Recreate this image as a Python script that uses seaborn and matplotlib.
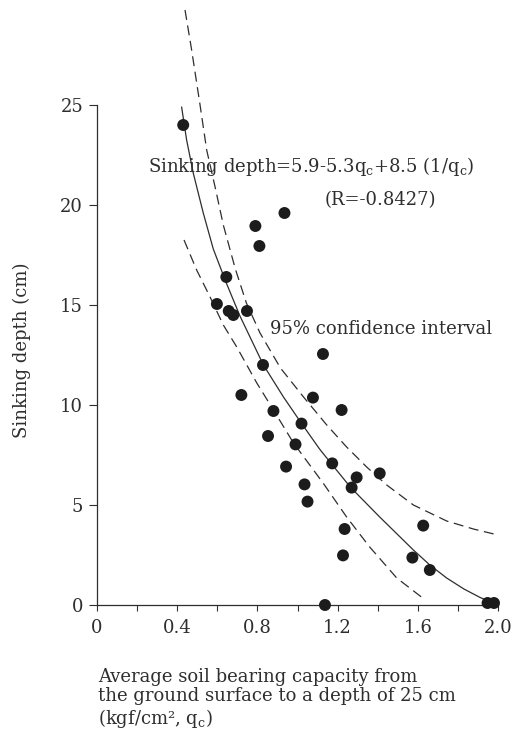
import numpy as np
import pandas as pd
import matplotlib
matplotlib.use("Agg")
import matplotlib.pyplot as plt
import seaborn as sns
from matplotlib.ticker import MultipleLocator, FixedLocator

# measured points (average bearing capacity qc, sinking depth)
qc = [0.43, 0.645, 0.598, 0.657, 0.68, 0.748, 0.79, 0.81, 0.935, 1.127,
      0.828, 0.72, 1.077, 1.22, 0.88, 1.02, 0.853, 0.99, 0.943, 1.173,
      1.41, 1.295, 1.035, 1.27, 1.05, 1.627, 1.235, 1.573, 1.227, 1.66,
      1.137, 1.948, 1.98]
depth = [24.0, 16.4, 15.05, 14.7, 14.5, 14.7, 18.95, 17.95, 19.6, 12.55,
         12.0, 10.5, 10.37, 9.75, 9.7, 9.07, 8.45, 8.03, 6.92, 7.08,
         6.58, 6.38, 6.03, 5.87, 5.17, 3.97, 3.8, 2.37, 2.48, 1.75,
         0.0, 0.1, 0.1]

# regression curve
fit_x = [0.422, 0.447, 0.48, 0.53, 0.58, 0.643, 0.713, 0.83, 0.93, 1.02,
         1.11, 1.17, 1.265, 1.41, 1.578, 1.66, 1.744, 1.83, 1.91, 1.96]
fit_y = [24.9, 23.25, 21.6, 19.6, 17.8, 16.15, 14.45, 12.0, 10.4, 9.08,
         7.8, 7.05, 5.88, 4.4, 2.75, 2.0, 1.35, 0.8, 0.38, 0.17]

# 95% confidence band
up_x = [0.439, 0.472, 0.514, 0.547, 0.589, 0.63, 0.69, 0.745, 0.813, 0.915,
        1.03, 1.146, 1.245, 1.345, 1.445, 1.578, 1.744, 1.877, 2.0]
up_y = [29.75, 27.75, 25.0, 22.75, 20.9, 19.0, 16.8, 15.1, 13.6, 11.85,
        10.4, 9.0, 7.9, 6.9, 6.0, 5.0, 4.2, 3.8, 3.5]
lo_x = [0.434, 0.497, 0.564, 0.63, 0.697, 0.797, 0.88, 0.98, 1.129, 1.245,
        1.36, 1.495, 1.627]
lo_y = [18.25, 16.75, 15.4, 14.0, 12.9, 11.1, 9.75, 8.1, 6.08, 4.4,
        2.9, 1.35, 0.33]

x_ticks = [0, 0.4, 0.8, 1.2, 1.6, 2.0]
x_tick_labels = ["0", "0.4", "0.8", "1.2", "1.6", "2.0"]
y_ticks = [0, 5, 10, 15, 20, 25]

sns.set_style("ticks")
plt.rcParams["font.family"] = ["DejaVu Serif"]
plt.rcParams["mathtext.fontset"] = "dejavuserif"
ink = "#2e2e2e"
fs = 13

fig = plt.figure(figsize=(5.16, 7.37), dpi=100)
ax = fig.add_axes([97 / 516, (737 - 605) / 737, 401 / 516, 600 / 737])

pts = pd.DataFrame({"qc": qc, "depth": depth})
sns.scatterplot(data=pts, x="qc", y="depth", s=74, color="#1c1c1c",
                edgecolor="none", clip_on=False, zorder=3, ax=ax)
sns.lineplot(x=fit_x, y=fit_y, sort=False, estimator=None, color=ink,
             lw=0.9, ax=ax)
sns.lineplot(x=up_x, y=up_y, sort=False, estimator=None, color=ink,
             lw=0.9, linestyle=(0, (8, 4.5)), clip_on=False, ax=ax)
sns.lineplot(x=lo_x, y=lo_y, sort=False, estimator=None, color=ink,
             lw=0.9, linestyle=(0, (8, 4.5)), ax=ax)

ax.set_xlim(0, 2.0)
ax.set_ylim(0, 30)
sns.despine(ax=ax)
ax.spines["left"].set_bounds(0, 25)
ax.spines["bottom"].set_bounds(0, 2.0)
for s in ["left", "bottom"]:
    ax.spines[s].set_linewidth(0.9)
    ax.spines[s].set_color(ink)

ax.xaxis.set_major_locator(FixedLocator(x_ticks))
ax.set_xticklabels(x_tick_labels)
ax.xaxis.set_minor_locator(MultipleLocator(0.2))
ax.yaxis.set_major_locator(FixedLocator(y_ticks))
ax.tick_params(axis="x", which="both", direction="out", length=4, width=0.8,
               color=ink, labelsize=fs, labelcolor=ink, pad=6)
ax.tick_params(axis="y", direction="out", length=6, width=0.8,
               color=ink, labelsize=fs, labelcolor=ink, pad=4)
ax.set_xlabel("")
ax.set_ylabel("")

ax.text(0.254, 21.95, r"Sinking depth=5.9-5.3$\mathrm{q_c}$+8.5 (1/$\mathrm{q_c}$)",
        fontsize=fs, color=ink, ha="left", va="center")
ax.text(1.411, 20.25, "(R=-0.8427)", fontsize=fs, color=ink,
        ha="center", va="center")
ax.text(0.863, 13.8, "95% confidence interval", fontsize=fs, color=ink,
        ha="left", va="center")

fig.text(22 / 516, (737 - 350) / 737, "Sinking depth (cm)", rotation=90,
         fontsize=fs, color=ink, ha="center", va="center")
fig.text(98 / 516, (737 - 668) / 737,
         "Average soil bearing capacity from\n"
         "the ground surface to a depth of 25 cm\n"
         "(kgf/cm², $\\mathrm{q_c}$)",
         fontsize=fs, color=ink, ha="left", va="top", linespacing=1.1)

fig.savefig("out.png", dpi=100)
